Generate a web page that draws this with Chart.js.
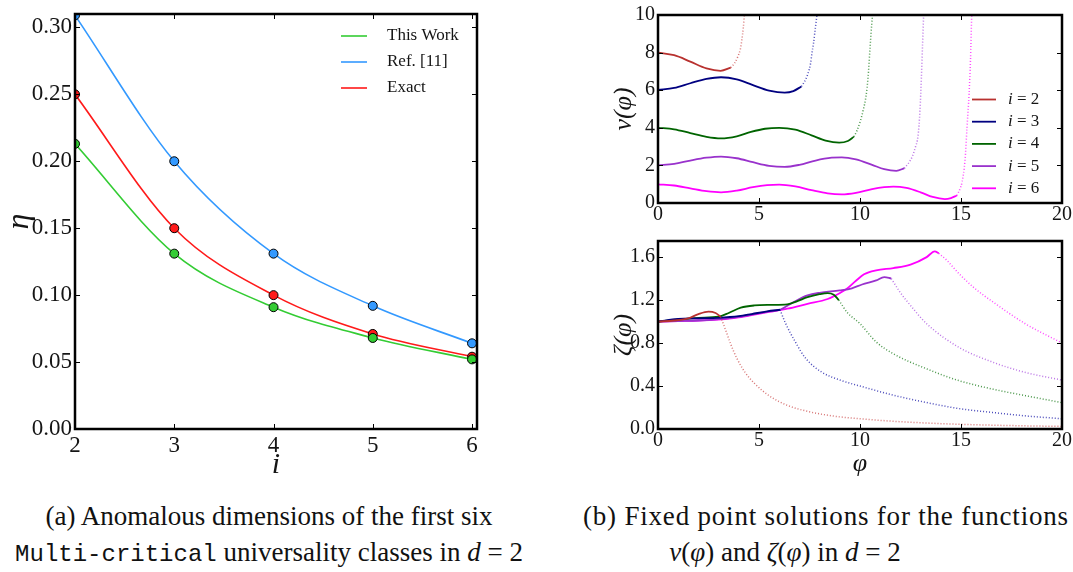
<!DOCTYPE html>
<html>
<head>
<meta charset="utf-8">
<script src="https://cdn.jsdelivr.net/npm/chart.js@4.4.1/dist/chart.umd.min.js"></script>
<style>
  body { margin: 0; width: 1073px; height: 572px; background: #fff; position: relative; overflow: hidden;
         font-family: "Liberation Serif", serif; color: #111; }
  canvas { position: absolute; }
  .cap { position: absolute; font-size: 27px; line-height: 32px; white-space: nowrap; }
  .mono { font-family: "Liberation Mono", monospace; font-size: 24px; }
  .it { font-style: italic; }
</style>
</head>
<body>
<canvas id="etaChart" width="490" height="480" style="left:0;top:0"></canvas>
<canvas id="vChart" width="483" height="230" style="left:590px;top:0"></canvas>
<canvas id="zetaChart" width="483" height="250" style="left:590px;top:230px"></canvas>

<div class="cap" style="left:0;width:538px;text-align:center;top:500px">(a) Anomalous dimensions of the first six</div>
<div class="cap" style="left:0;width:538px;text-align:center;top:536px"><span class="mono">Multi-critical</span> universality classes in <span class="it">d</span> = 2</div>
<div class="cap" style="left:583px;top:500px;letter-spacing:0.8px">(b) Fixed point solutions for the functions</div>
<div class="cap" style="left:585px;width:400px;text-align:center;top:536px"><span class="it">v</span>(<span class="it">φ</span>) and <span class="it">ζ</span>(<span class="it">φ</span>) in <span class="it">d</span> = 2</div>

<script>
// ---------------------------------------------------------------------------
// Data
// ---------------------------------------------------------------------------
// (a) anomalous dimension eta vs i
const iValues     = [2, 3, 4, 5, 6];
const etaThisWork = [0.213, 0.131, 0.091, 0.068, 0.052];
const etaRef11    = [0.309, 0.200, 0.131, 0.092, 0.064];
const etaExact    = [0.250, 0.150, 0.100, 0.071, 0.054];
const etaTicks    = [0, 0.05, 0.10, 0.15, 0.20, 0.25, 0.30];
const iTicks      = [2, 3, 4, 5, 6];

// (b) top: v(phi), solid part and dotted (diverging) part, [phi, v]
const v2Solid  = [[0,8.0],[0.8,7.86],[1.6,7.52],[2.4,7.16],[3.1,7.03],[3.6,7.2]];
const v2Dotted = [[3.6,7.2],[3.8,7.45],[3.95,7.78],[4.08,8.2],[4.15,8.67],[4.22,9.3],[4.3,10.3]];
const v3Solid  = [[0,6.01],[0.8,6.12],[1.6,6.37],[2.4,6.6],[3.12,6.69],[3.9,6.58],[4.7,6.27],[5.5,5.98],[6.27,5.87],[6.7,5.95],[7.1,6.2]];
const v3Dotted = [[7.1,6.2],[7.3,6.55],[7.43,6.9],[7.55,7.4],[7.62,7.96],[7.7,8.5],[7.76,9.03],[7.9,10.3]];
const v4Solid  = [[0,4.0],[0.8,3.92],[1.6,3.72],[2.4,3.52],[3.12,3.44],[3.9,3.55],[4.6,3.78],[5.3,3.95],[6.0,4.0],[6.8,3.9],[7.6,3.6],[8.3,3.32],[8.97,3.21],[9.4,3.3],[9.7,3.53]];
const v4Dotted = [[9.7,3.53],[9.85,3.85],[10.0,4.3],[10.15,4.9],[10.3,5.7],[10.4,6.7],[10.5,8.3],[10.58,9.5],[10.65,10.3]];
const v5Solid  = [[0,2.0],[0.8,2.08],[1.6,2.26],[2.4,2.41],[3.12,2.47],[3.9,2.38],[4.7,2.17],[5.5,1.98],[6.27,1.92],[7.0,2.03],[7.8,2.26],[8.6,2.41],[9.1,2.43],[9.8,2.32],[10.6,2.03],[11.2,1.8],[11.8,1.71],[12.2,1.85]];
const v5Dotted = [[12.2,1.85],[12.45,2.2],[12.6,2.5],[12.75,3.0],[12.87,3.55],[12.97,4.95],[13.04,6.7],[13.1,8.5],[13.16,10.3]];
const v6Solid  = [[0,0.99],[0.8,0.93],[1.6,0.78],[2.4,0.63],[3.12,0.57],[3.9,0.66],[4.7,0.84],[5.4,0.95],[6.0,0.98],[6.8,0.88],[7.6,0.68],[8.4,0.51],[9.1,0.46],[9.8,0.54],[10.6,0.74],[11.2,0.84],[11.65,0.87],[12.3,0.8],[13.0,0.57],[13.6,0.32],[14.2,0.21],[14.5,0.26],[14.8,0.4]];
const v6Dotted = [[14.8,0.4],[14.95,0.75],[15.05,1.1],[15.2,2.29],[15.3,4.06],[15.4,5.83],[15.47,7.6],[15.53,9.9],[15.56,10.3]];
const vTicks   = [0, 2, 4, 6, 8, 10];

// (b) bottom: zeta(phi), [phi, zeta]
const z2Solid  = [[0,1.0],[0.8,1.01],[1.5,1.03],[2.0,1.07],[2.5,1.093],[2.85,1.08],[3.1,1.045]];
const z2Dotted = [[3.1,1.045],[3.35,0.92],[3.6,0.79],[3.9,0.66],[4.3,0.53],[4.8,0.42],[5.5,0.31],[6.4,0.22],[7.5,0.16],[8.7,0.12],[10,0.095],[12,0.068],[14,0.05],[16,0.038],[18,0.03],[20,0.024]];
const z3Solid  = [[0,1.0],[1,1.025],[2,1.03],[3,1.035],[4,1.05],[4.64,1.07],[5.4,1.095],[6.04,1.11]];
const z3Dotted = [[6.04,1.11],[6.3,0.99],[6.8,0.81],[7.3,0.66],[8.1,0.53],[9.1,0.45],[10.0,0.40],[11.65,0.315],[13.3,0.246],[14.9,0.19],[16.6,0.153],[18.2,0.122],[20,0.095]];
const z4Solid  = [[0,1.0],[1,1.02],[2,1.035],[3.0,1.045],[3.5,1.08],[4.1,1.13],[4.77,1.15],[5.6,1.155],[6.4,1.16],[6.9,1.19],[7.4,1.227],[8.0,1.255],[8.4,1.265],[8.7,1.25],[8.95,1.2]];
const z4Dotted = [[8.95,1.2],[9.36,1.087],[10.0,0.98],[10.8,0.81],[11.65,0.70],[13.3,0.56],[14.9,0.45],[16.6,0.37],[18.2,0.31],[20,0.245]];
const z5Solid  = [[0,1.0],[1,1.005],[2,1.01],[3.15,1.025],[4,1.045],[4.77,1.07],[5.5,1.095],[6.04,1.11],[6.7,1.18],[7.4,1.243],[8.0,1.268],[9.0,1.29],[9.6,1.31],[10.1,1.345],[10.8,1.383],[11.2,1.414],[11.55,1.40]];
const z5Dotted = [[11.55,1.40],[11.98,1.274],[12.5,1.15],[13.3,0.98],[14.9,0.76],[16.6,0.62],[18.2,0.526],[20,0.455]];
const z6Solid  = [[0,1.0],[1,1.005],[2,1.01],[3.15,1.02],[4,1.04],[4.77,1.065],[5.5,1.09],[6.4,1.12],[7.4,1.165],[8.4,1.21],[9.0,1.265],[9.35,1.305],[9.8,1.38],[10.2,1.44],[10.8,1.477],[11.65,1.498],[12.5,1.53],[13.3,1.60],[13.7,1.654],[13.9,1.635]];
const z6Dotted = [[13.9,1.635],[14.3,1.57],[14.9,1.446],[15.7,1.306],[16.6,1.18],[18.2,0.978],[20,0.80]];
const zetaTicks = [0, 0.4, 0.8, 1.2, 1.6];
const phiTicks  = [0, 5, 10, 15, 20];

// ---------------------------------------------------------------------------
// Styling helpers
// ---------------------------------------------------------------------------
const serif = 'Liberation Serif',
      ink = '#151515';

const iColors = { 2: '#b8312f', 3: '#000080', 4: '#006400', 5: '#9932cc', 6: '#ff00ff' };
const iFaded  = { 2: 'rgba(200,60,60,0.7)', 3: 'rgba(0,0,160,0.7)', 4: 'rgba(0,110,0,0.7)',
                  5: 'rgba(160,60,220,0.7)', 6: 'rgba(255,0,255,0.7)' };

// Force the size of an axis box so the plot area lands where the figure has it
function fixBox(size) {
  return s => {
    if (s.isHorizontal()) s.height = size; else s.width = size;
    s.paddingLeft = s.paddingRight = s.paddingTop = s.paddingBottom = 0;
  };
}
function useTicks(values) {
  return s => { s.ticks = values.map(v => ({ value: v })); };
}

// Matplotlib-like frame: thick box and inward ticks on all four sides
const frameTicks = {
  id: 'frameTicks',
  afterDatasetsDraw(chart, args, opts) {
    const { ctx, chartArea: a, scales: { x, y } } = chart;
    ctx.save();
    ctx.strokeStyle = '#000';
    ctx.lineWidth = 1;
    ctx.beginPath();
    x.ticks.forEach(t => {
      const px = Math.round(x.getPixelForValue(t.value)) + 0.5;
      ctx.moveTo(px, a.bottom); ctx.lineTo(px, a.bottom - opts.len);
      ctx.moveTo(px, a.top);    ctx.lineTo(px, a.top + opts.len);
    });
    y.ticks.forEach(t => {
      const py = Math.round(y.getPixelForValue(t.value)) + 0.5;
      ctx.moveTo(a.left, py);  ctx.lineTo(a.left + opts.len, py);
      ctx.moveTo(a.right, py); ctx.lineTo(a.right - opts.len, py);
    });
    ctx.stroke();
    ctx.lineWidth = opts.frame;
    ctx.strokeRect(a.left, a.top, a.width, a.height);
    ctx.restore();
  }
};

// Legend drawn inside the axes, no box (only datasets that have a label)
const insideLegend = {
  id: 'insideLegend',
  afterDraw(chart, args, opts) {
    const ctx = chart.ctx;
    const items = chart.data.datasets.filter(d => d.label);
    ctx.save();
    ctx.textBaseline = 'middle';
    items.forEach((d, k) => {
      const y = opts.y + k * opts.gap;
      ctx.strokeStyle = d.borderColor;
      ctx.lineWidth = d.borderWidth;
      ctx.beginPath();
      ctx.moveTo(opts.x, y); ctx.lineTo(opts.x + opts.len, y);
      ctx.stroke();
      ctx.fillStyle = ink;
      let tx = opts.textX;
      let text = d.label;
      if (opts.italicHead && text.startsWith(opts.italicHead)) {
        ctx.font = `italic ${opts.size}px "${serif}"`;
        ctx.fillText(opts.italicHead, tx, y);
        tx += ctx.measureText(opts.italicHead).width;
        text = text.slice(opts.italicHead.length);
      }
      ctx.font = `${opts.size}px "${serif}"`;
      ctx.fillText(text, tx, y);
    });
    ctx.restore();
  }
};

function solid(i, data) {
  return { label: 'i = ' + i, data: data, borderColor: iColors[i], borderWidth: 1.8,
           pointRadius: 0, cubicInterpolationMode: 'monotone', clip: 0 };
}
function dotted(i, data) {
  return { data: data, borderColor: iFaded[i], borderWidth: 1.5, borderDash: [1, 2],
           pointRadius: 0, cubicInterpolationMode: 'monotone', clip: 0 };
}
function etaSet(label, color, values) {
  return { label: label, data: iValues.map((x, k) => ({ x: x, y: values[k] })),
           borderColor: color, backgroundColor: color, borderWidth: 1.6,
           pointRadius: 4.5, pointBorderColor: '#000', pointBorderWidth: 1,
           pointBackgroundColor: color, cubicInterpolationMode: 'monotone', clip: 0 };
}

// ---------------------------------------------------------------------------
// (a) eta vs i
// ---------------------------------------------------------------------------
new Chart(document.getElementById('etaChart'), {
  type: 'line',
  data: {
    datasets: [
      etaSet('This Work', '#33cc33', etaThisWork),
      etaSet('Ref. [11]', '#3399ff', etaRef11),
      etaSet('Exact', '#ff1a1a', etaExact)
    ]
  },
  options: {
    responsive: false,
    animation: false,
    layout: { padding: { top: 14, right: 13, left: 0, bottom: 0 } },
    plugins: {
      legend: { display: false },
      tooltip: { enabled: false },
      frameTicks: { len: 5, frame: 2.5 },
      insideLegend: { x: 341, len: 26, textX: 387, y: 36, gap: 26, size: 17 }
    },
    scales: {
      x: {
        type: 'linear', min: 2, max: 6.05,
        afterBuildTicks: useTicks(iTicks),
        afterFit: fixBox(51),
        grid: { display: false, drawTicks: false },
        border: { display: false },
        ticks: { color: ink, padding: 3, font: { family: serif, size: 23 }, callback: v => String(v) },
        title: { display: true, text: 'i', color: ink, padding: { top: 0, bottom: 0 },
                 font: { family: serif, size: 30, style: 'italic', lineHeight: 1 } }
      },
      y: {
        type: 'linear', min: 0, max: 0.31,
        afterBuildTicks: useTicks(etaTicks),
        afterFit: fixBox(75),
        grid: { display: false, drawTicks: false },
        border: { display: false },
        ticks: { color: ink, padding: 3, font: { family: serif, size: 23 }, callback: v => v.toFixed(2) },
        title: { display: true, text: 'η', color: ink, padding: { top: 2, bottom: 0 },
                 font: { family: serif, size: 32, style: 'italic', lineHeight: 1.1 } }
      }
    }
  },
  plugins: [frameTicks, insideLegend]
});

// ---------------------------------------------------------------------------
// (b) top: v(phi)
// ---------------------------------------------------------------------------
new Chart(document.getElementById('vChart'), {
  type: 'line',
  data: {
    datasets: [
      solid(2, v2Solid), solid(3, v3Solid), solid(4, v4Solid), solid(5, v5Solid), solid(6, v6Solid),
      dotted(2, v2Dotted), dotted(3, v3Dotted), dotted(4, v4Dotted), dotted(5, v5Dotted), dotted(6, v6Dotted)
    ]
  },
  options: {
    responsive: false,
    animation: false,
    layout: { padding: { top: 15, right: 11, left: 0, bottom: 0 } },
    plugins: {
      legend: { display: false },
      tooltip: { enabled: false },
      frameTicks: { len: 5, frame: 2.5 },
      insideLegend: { x: 382, len: 24, textX: 418, y: 99.5, gap: 22.2, size: 17, italicHead: 'i' }
    },
    scales: {
      x: {
        type: 'linear', min: 0, max: 20,
        afterBuildTicks: useTicks(phiTicks),
        afterFit: fixBox(27),
        grid: { display: false, drawTicks: false },
        border: { display: false },
        ticks: { color: ink, padding: 0, font: { family: serif, size: 20 }, callback: v => String(v) }
      },
      y: {
        type: 'linear', min: 0, max: 10,
        afterBuildTicks: useTicks(vTicks),
        afterFit: fixBox(68),
        grid: { display: false, drawTicks: false },
        border: { display: false },
        ticks: { color: ink, padding: 3, font: { family: serif, size: 20 }, callback: v => String(v) },
        title: { display: true, text: 'v(φ)', color: ink, padding: { top: 19, bottom: 0 },
                 font: { family: serif, size: 26, style: 'italic', lineHeight: 1.2 } }
      }
    }
  },
  plugins: [frameTicks, insideLegend]
});

// ---------------------------------------------------------------------------
// (b) bottom: zeta(phi)
// ---------------------------------------------------------------------------
new Chart(document.getElementById('zetaChart'), {
  type: 'line',
  data: {
    datasets: [
      dotted(2, z2Dotted), dotted(3, z3Dotted), dotted(4, z4Dotted), dotted(5, z5Dotted), dotted(6, z6Dotted),
      solid(2, z2Solid), solid(3, z3Solid), solid(4, z4Solid), solid(5, z5Solid), solid(6, z6Solid)
    ]
  },
  options: {
    responsive: false,
    animation: false,
    layout: { padding: { top: 11, right: 11, left: 0, bottom: 0 } },
    plugins: {
      legend: { display: false },
      tooltip: { enabled: false },
      frameTicks: { len: 5, frame: 2.5 }
    },
    scales: {
      x: {
        type: 'linear', min: 0, max: 20,
        afterBuildTicks: useTicks(phiTicks),
        afterFit: fixBox(51),
        grid: { display: false, drawTicks: false },
        border: { display: false },
        ticks: { color: ink, padding: 0, font: { family: serif, size: 20 }, callback: v => String(v) },
        title: { display: true, text: 'φ', color: ink, padding: { top: 0, bottom: 3 },
                 font: { family: serif, size: 26, style: 'italic', lineHeight: 1 } }
      },
      y: {
        type: 'linear', min: 0, max: 1.75,
        afterBuildTicks: useTicks(zetaTicks),
        afterFit: fixBox(68),
        grid: { display: false, drawTicks: false },
        border: { display: false },
        ticks: { color: ink, padding: 3, font: { family: serif, size: 20 }, callback: v => v.toFixed(1) },
        title: { display: true, text: 'ζ(φ)', color: ink, padding: { top: 19, bottom: 0 },
                 font: { family: serif, size: 26, style: 'italic', lineHeight: 1.2 } }
      }
    }
  },
  plugins: [frameTicks]
});
</script>
</body>
</html>
